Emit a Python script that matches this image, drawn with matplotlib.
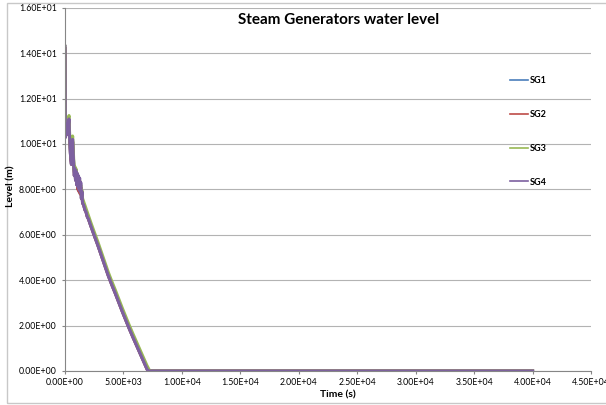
import matplotlib.pyplot as plt
from matplotlib.patches import Rectangle

plt.rcParams['font.family'] = ['Lato', 'DejaVu Sans']

# time (s)
t = [0, 15, 40, 80, 120, 160, 200, 250, 300, 340, 380, 420, 460, 500, 550, 600,
     650, 700, 750, 800, 850, 900, 950, 1000, 1050, 1100, 1150, 1200, 1250, 1300,
     1350, 1400, 1450, 1500, 1600, 1700, 1800, 1900, 2000, 2200, 2500, 2800, 3100,
     3400, 3700, 4000, 4300, 4600, 4900, 5200, 5500, 5800, 6100, 6400, 6700, 7000,
     7100, 7250, 10000, 20000, 30000, 40000]

sg1 = [14.2, 11.4, 10.3, 10.8, 10.4, 10.8, 10.5, 10.8, 10.9, 11.0, 10.4, 10.0,
       9.6, 9.3, 9.1, 9.6, 10.1, 9.6, 9.0, 8.6, 8.9, 8.4, 8.7, 8.2, 8.6, 8.0, 8.4,
       7.9, 8.3, 7.8, 8.1, 7.6, 7.8, 7.4, 7.3, 7.1, 7.0, 6.8, 6.7, 6.4, 5.97, 5.55,
       5.1, 4.65, 4.2, 3.8, 3.42, 3.02, 2.62, 2.24, 1.86, 1.5, 1.15, 0.8, 0.45,
       0.1, 0.0, 0.0, 0.0, 0.0, 0.0, 0.0]
sg2 = [14.2, 11.4, 10.3, 10.8, 10.4, 10.8, 10.5, 10.8, 10.9, 11.0, 10.4, 10.0,
       9.6, 9.3, 9.1, 9.6, 10.1, 9.6, 9.0, 8.6, 8.9, 8.4, 8.7, 8.2, 8.6, 8.0, 8.4,
       7.9, 8.3, 7.8, 8.1, 7.6, 7.8, 7.4, 7.3, 7.1, 7.0, 6.8, 6.7, 6.4, 5.97, 5.55,
       5.1, 4.65, 4.2, 3.8, 3.42, 3.02, 2.62, 2.24, 1.86, 1.5, 1.15, 0.8, 0.45,
       0.1, 0.0, 0.0, 0.0, 0.0, 0.0, 0.0]
sg3 = [14.3, 11.6, 10.5, 11.0, 10.6, 11.0, 10.7, 11.0, 11.1, 11.25, 10.6, 10.2,
       9.8, 9.5, 9.3, 9.8, 10.35, 9.8, 9.2, 8.8, 9.0, 8.6, 8.9, 8.4, 8.7, 8.2,
       8.5, 8.1, 8.4, 8.0, 8.2, 7.8, 7.95, 7.6, 7.45, 7.3, 7.15, 7.0, 6.85, 6.55,
       6.12, 5.7, 5.25, 4.8, 4.35, 3.95, 3.57, 3.17, 2.77, 2.39, 2.01, 1.65, 1.3,
       0.95, 0.6, 0.25, 0.15, 0.0, 0.0, 0.0, 0.0, 0.0]
sg4 = [14.3, 11.5, 10.3, 10.9, 10.4, 10.8, 10.5, 10.8, 10.9, 11.1, 10.4, 10.0,
       9.6, 9.3, 9.1, 9.7, 10.2, 9.6, 9.0, 8.6, 8.9, 8.4, 8.8, 8.2, 8.7, 8.1, 8.6,
       8.0, 8.5, 7.9, 8.3, 7.6, 7.9, 7.4, 7.3, 7.1, 7.0, 6.8, 6.7, 6.4, 5.97, 5.55,
       5.1, 4.65, 4.2, 3.8, 3.42, 3.02, 2.62, 2.24, 1.86, 1.5, 1.15, 0.8, 0.45,
       0.1, 0.0, 0.0, 0.0, 0.0, 0.0, 0.0]

names = ['SG1', 'SG2', 'SG3', 'SG4']
colors = ['#4a7ebb', '#be4b48', '#98b954', '#7d60a0']

xticks = [0, 5000, 10000, 15000, 20000, 25000, 30000, 35000, 40000, 45000]
yticks = [0, 2, 4, 6, 8, 10, 12, 14, 16]

fig = plt.figure(figsize=(6.06, 4.05), dpi=100)
ax = fig.add_axes([0.1073, 0.084, 0.868, 0.897])

for name, y, c in zip(names, [sg1, sg2, sg3, sg4], colors):
    ax.plot(t, y, color=c, lw=2.2, label=name)

ax.set_xlim(0, 45000)
ax.set_ylim(0, 16)
ax.set_xticks(xticks)
ax.set_yticks(yticks)
ax.set_xticklabels(['%.2E' % v for v in xticks], fontsize=6.3)
ax.set_yticklabels(['%.2E' % v for v in yticks], fontsize=6.3)
ax.tick_params(axis='x', length=2.5, width=0.8, color='#868686', pad=2.5)
ax.tick_params(axis='y', length=2, width=0.8, color='#868686', pad=4)

ax.grid(axis='y', color='#b3b3b3', lw=0.8)
ax.set_axisbelow(True)
for s in ['top', 'right']:
    ax.spines[s].set_visible(False)
for s in ['left', 'bottom']:
    ax.spines[s].set_color('#868686')
    ax.spines[s].set_linewidth(0.8)

fig.text(0.558, 0.95, 'Steam Generators water level', ha='center', va='center',
         fontsize=11, fontweight='bold')
fig.text(0.558, 0.025, 'Time (s)', ha='center', va='center', fontsize=7.5, fontweight='bold')
fig.text(0.018, 0.54, 'Level (m)', ha='center', va='center', rotation=90,
         fontsize=7.5, fontweight='bold')

leg = fig.legend(loc='upper left', bbox_to_anchor=(0.828, 0.832), frameon=False,
                 labelspacing=2.75, handlelength=2.0, handletextpad=0.15,
                 prop={'weight': 'bold', 'size': 6.5})
for h in leg.get_lines():
    h.set_linewidth(1.2)

# light chart-area border (right side runs off the image)
fig.patches.append(Rectangle((0.0115, 0.006), 1.05, 0.987, transform=fig.transFigure,
                             fill=False, edgecolor='#c8c8c8', lw=1))

fig.savefig('out.png', dpi=100)
